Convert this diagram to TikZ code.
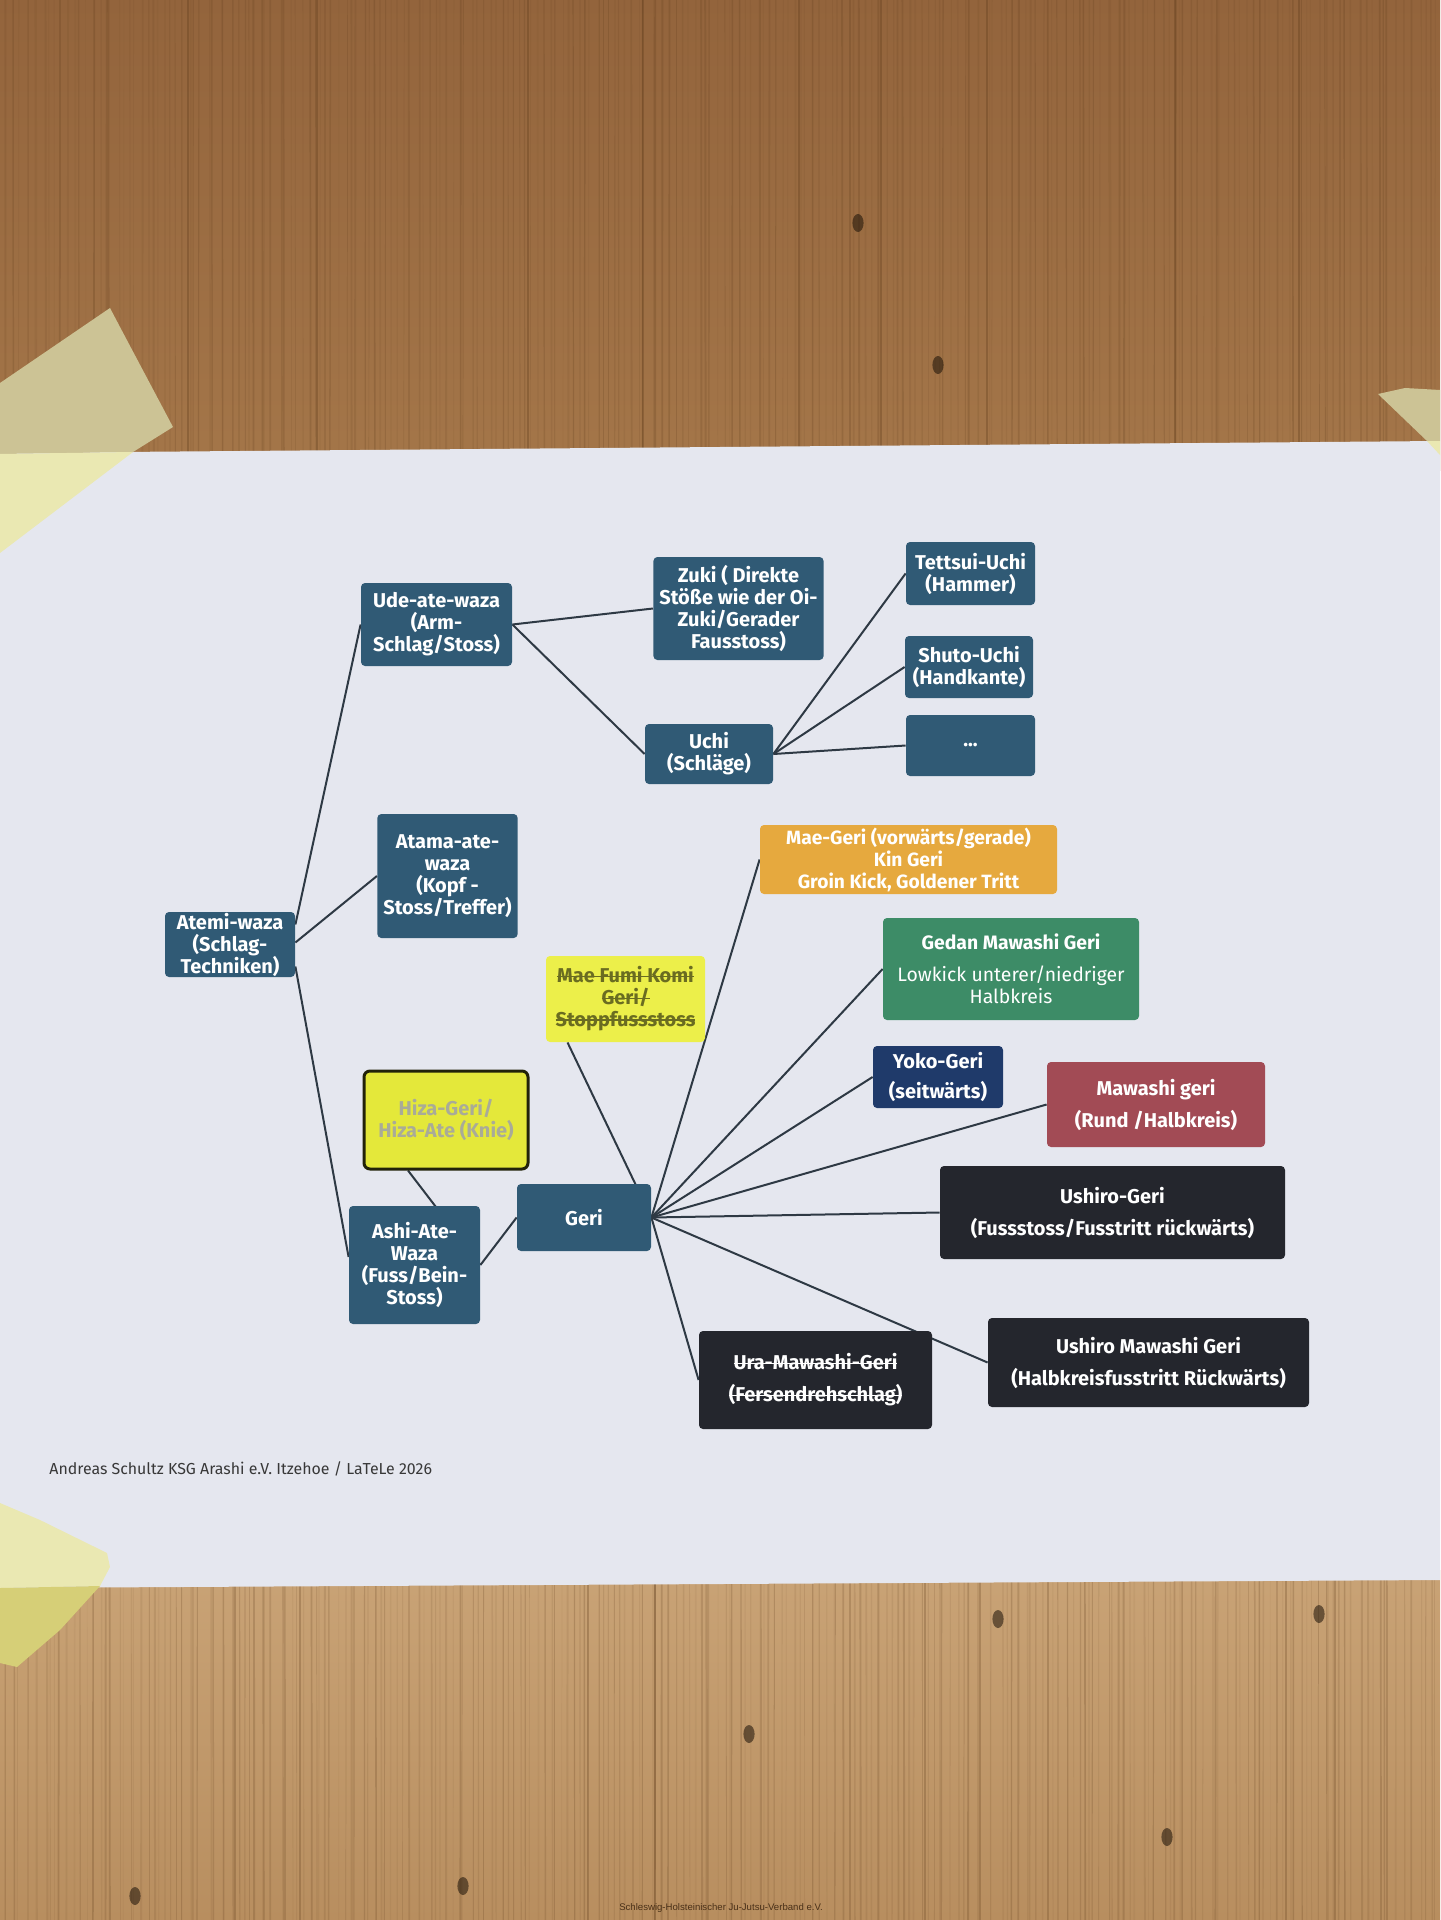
\documentclass[tikz,border=0pt]{standalone}
\usepackage{fontspec}
\setmainfont{Fira Sans}
\newfontfamily\arialfont{Liberation Sans}
\newcommand\strk[1]{\leavevmode\setbox0\hbox{#1}\rlap{\rule[0.3em]{\wd0}{0.07em}}\box0}
\usetikzlibrary{calc}
\pgfdeclarelayer{wood}
\pgfdeclarelayer{lines}
\pgfsetlayers{wood,lines,main}
\definecolor{steel}{HTML}{305A75}
\definecolor{linec}{HTML}{2E3944}
\definecolor{paperc}{HTML}{E5E7EF}
\definecolor{orangebox}{HTML}{E6A93E}
\definecolor{greenbox}{HTML}{3D8C67}
\definecolor{navybox}{HTML}{1F3A6A}
\definecolor{redbox}{HTML}{A24B55}
\definecolor{blackbox}{HTML}{24262D}
\definecolor{yellowA}{HTML}{ECEF4A}
\definecolor{yellowB}{HTML}{E4E83A}
\definecolor{hizatext}{HTML}{A9AB98}
\definecolor{woodtop}{HTML}{93643C}
\definecolor{woodmid}{HTML}{A47649}
\definecolor{woodlow}{HTML}{C9A376}
\definecolor{woodbot}{HTML}{B88E5F}
\definecolor{grain}{HTML}{5A3818}
\definecolor{tapedark}{HTML}{CCC395}
\definecolor{tapelight}{HTML}{EAE8B2}
\tikzset{
  box/.style={rounded corners=2pt, inner xsep=3pt, inner ysep=1pt, align=center,
    text=white, font=\bfseries\fontsize{10}{11}\selectfont},
  bigbox/.style={box, font=\bfseries\fontsize{10}{16}\selectfont},
  conn/.style={draw=linec, line width=1pt},
}
\begin{document}
\begin{tikzpicture}[x=0.5pt,y=-0.5pt]
\useasboundingbox (0,0) rectangle (1440,1920);

% ---------- nodes ----------
\node[box, fill=steel, minimum width=65pt, minimum height=32.5pt, inner ysep=0pt] (atemi) at (230,944.5) {Atemi-waza\\(Schlag-\\Techniken)};
\node[box, fill=steel, minimum width=75.5pt, minimum height=41.5pt] (ude) at (436.5,624.5) {Ude-ate-waza\\(Arm-\\Schlag/Stoss)};
\node[box, fill=steel, minimum width=69.5pt, minimum height=62pt] (atama) at (447.5,876) {Atama-ate-\\waza\\(Kopf -\\Stoss/Treffer)};
\node[box, fill=steel, minimum width=65.5pt, minimum height=59pt] (ashi) at (414.5,1265) {Ashi-Ate-\\Waza\\(Fuss/Bein-\\Stoss)};
\node[box, fill=steel, minimum width=83.5pt, minimum height=51.5pt] (zuki) at (738.5,608.5) {Zuki ( Direkte\\Stöße wie der Oi-\\Zuki/Gerader\\Fausstoss)};
\node[box, fill=steel, minimum width=64pt, minimum height=30pt] (uchi) at (709,754) {Uchi\\(Schläge)};
\node[box, fill=steel, minimum width=64.5pt, minimum height=31.5pt] (tett) at (970.5,573.5) {Tettsui-Uchi\\(Hammer)};
\node[box, fill=steel, minimum width=64pt, minimum height=31pt] (shuto) at (969,667) {Shuto-Uchi\\(Handkante)};
\node[box, fill=steel, minimum width=64.5pt, minimum height=30.5pt] (dots) at (970.5,745.5) {...};
\node[box, fill=orangebox, minimum width=148.5pt, minimum height=34.5pt, font=\bfseries\fontsize{9.6}{11}\selectfont] (maegeri) at (908.5,859.5) {Mae-Geri (vorwärts/gerade)\\Kin Geri\\Groin Kick, Goldener Tritt};
\node[box, fill=greenbox, minimum width=128pt, minimum height=51pt, font=\fontsize{9.7}{11}\selectfont] (gedan) at (1011,969) {\textbf{Gedan Mawashi Geri}\\[5pt]Lowkick unterer/niedriger\\Halbkreis};
\node[box, fill=yellowA, minimum width=79.5pt, minimum height=43pt, text=black!55!yellowA] (maefumi) at (625.5,999) {\strk{Mae Fumi Komi}\\\strk{Geri/}\\\strk{Stoppfussstoss}};
\node[bigbox, fill=navybox, minimum width=65pt, minimum height=31pt, font=\bfseries\fontsize{10}{15}\selectfont] (yoko) at (938,1077) {Yoko-Geri\\(seitwärts)};
\node[bigbox, fill=redbox, minimum width=109pt, minimum height=42.5pt] (mawashi) at (1156,1104.5) {Mawashi geri\\(Rund /Halbkreis)};
\node[box, fill=yellowB, draw=black!85!yellowB, line width=1.5pt, rounded corners=3pt, minimum width=82pt, minimum height=49pt, text=hizatext] (hiza) at (446,1120) {Hiza-Geri/\\Hiza-Ate (Knie)};
\node[box, fill=steel, minimum width=67pt, minimum height=33.5pt] (geri) at (584,1217.5) {Geri};
\node[bigbox, fill=blackbox, minimum width=172.5pt, minimum height=46.5pt] (ushirogeri) at (1112.5,1212.5) {Ushiro-Geri\\(Fussstoss/Fusstritt rückwärts)};
\node[bigbox, fill=blackbox, minimum width=116.5pt, minimum height=49pt] (ura) at (815.5,1380) {\strk{Ura-Mawashi-Geri}\\\strk{(Fersendrehschlag)}};
\node[bigbox, fill=blackbox, minimum width=160.5pt, minimum height=44.5pt] (ushiromaw) at (1148.5,1362.5) {Ushiro Mawashi Geri\\(Halbkreisfusstritt Rückwärts)};

\node[anchor=west, inner sep=0pt, text=black!78, font=\fontsize{7.95}{9}\selectfont] (footer) at (49,1469) {Andreas Schultz KSG Arashi e.V. Itzehoe / LaTeLe 2026};
\node[inner sep=0pt, text=black!62!brown, font=\arialfont\fontsize{4.8}{6}\selectfont] (wm) at (721,1908) {Schleswig-Holsteinischer Ju-Jutsu-Verband e.V.};

% ---------- connectors ----------
\begin{pgfonlayer}{lines}
\draw[conn] ([yshift=10pt]atemi.east) -- (ude.west);
\draw[conn] ([yshift=1pt]atemi.east) -- (atama.west);
\draw[conn] ([yshift=-11pt]atemi.east) -- ([yshift=4pt]ashi.west);
\draw[conn] (ude.east) -- (zuki.west);
\draw[conn] (ude.east) -- (uchi.west);
\draw[conn] (uchi.east) -- (tett.west);
\draw[conn] (uchi.east) -- (shuto.west);
\draw[conn] (uchi.east) -- (dots.west);
\draw[conn] (ashi.east) -- (geri.west);
\draw[conn] ([xshift=-19pt]hiza.south) -- (ashi.east);
\draw[conn] (geri.east) -- ([xshift=-29pt]maefumi.south);
\draw[conn] (geri.east) -- (maegeri.west);
\draw[conn] (geri.east) -- (gedan.west);
\draw[conn] (geri.east) -- (yoko.west);
\draw[conn] (geri.east) -- (mawashi.west);
\draw[conn] (geri.east) -- (ushirogeri.west);
\draw[conn] (geri.east) -- (ushiromaw.west);
\draw[conn] (geri.east) -- (ura.west);
\end{pgfonlayer}

% ---------- wood, paper, tape ----------
\begin{pgfonlayer}{wood}
\shade[top color=woodtop, bottom color=woodmid] (0,0) rectangle (1440,470);
\shade[top color=woodlow, bottom color=woodbot] (0,1570) rectangle (1440,1920);
\pgfmathsetseed{17}
\foreach \i in {0,...,240} {
  \pgfmathsetmacro\xx{\i*6+rnd*6}
  \pgfmathsetmacro\op{0.05+0.18*rnd}
  \pgfmathsetmacro\lw{0.3+0.7*rnd}
  \draw[grain, opacity=\op, line width=\lw pt] (\xx,0) -- (\xx+rnd*4-2,1920);
}
\foreach \xx in {188,317,528,643,799,881,987,1175,1299} {
  \draw[grain, opacity=0.3, line width=1.1pt] (\xx,0) -- (\xx,470);
}
\foreach \xx in {235,300,588,655,925,980,1286,1335} {
  \draw[grain, opacity=0.25, line width=1.1pt] (\xx,1570) -- (\xx,1920);
}
\foreach \kx/\ky in {858/223,938/365,749/1734,1167/1837,135/1896,463/1886,998/1619,1319/1614} {
  \fill[black!70!grain, opacity=0.55] (\kx,\ky) ellipse [x radius=2.8pt, y radius=4.5pt];
}
\fill[paperc] (0,453) -- (1440,441) -- (1440,1580) -- (0,1588) -- cycle;
\fill[tapedark] (0,383) -- (110,308) -- (120,327) -- (173,427) -- (133,452) -- (0,454) -- cycle;
\fill[tapelight] (0,454) -- (133,452) -- (0,553) -- cycle;
\fill[tapedark] (1378,394) -- (1405,388) -- (1440,390) -- (1440,441) -- (1427,441) -- cycle;
\fill[tapelight] (1427,441) -- (1440,441) -- (1440,455) -- cycle;
\fill[tapelight] (0,1503) -- (40,1520) -- (107,1553) -- (110,1567) -- (100,1586) -- (0,1588) -- cycle;
\fill[tapedark!80!yellow] (0,1588) -- (100,1586) -- (60,1630) -- (17,1667) -- (0,1663) -- cycle;
\end{pgfonlayer}
\end{tikzpicture}
\end{document}
